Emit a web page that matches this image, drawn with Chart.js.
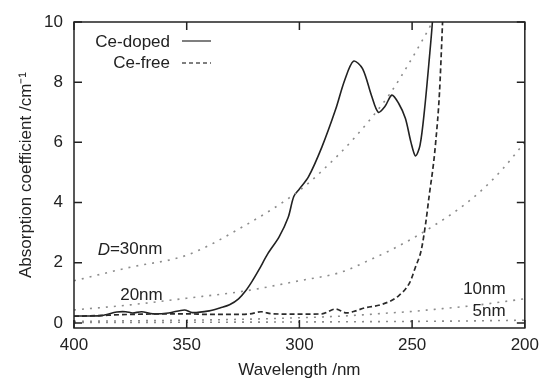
<!DOCTYPE html>
<html>
<head>
<meta charset="utf-8">
<script src="https://cdn.jsdelivr.net/npm/chart.js@4.4.0/dist/chart.umd.min.js"></script>
<style>
  html, body { margin: 0; padding: 0; background: #fff; }
</style>
</head>
<body>
<canvas id="myChart" width="546" height="381"></canvas>
<script>
// Ce-doped sample (solid line): wavelength /nm and absorption /cm-1
var dopedWave = [400, 397, 388, 381, 377, 374, 370, 365, 358, 351, 347.5, 340, 335, 331, 327, 324, 321, 318, 314, 309, 305, 302.5, 300, 296, 290, 284, 280, 276, 272, 268, 265, 262, 259, 256, 253, 250.5, 248.5, 246.5, 244.5, 242.3, 241, 239.5];
var dopedAbs  = [0.23, 0.23, 0.24, 0.36, 0.37, 0.33, 0.37, 0.3, 0.33, 0.43, 0.34, 0.4, 0.5, 0.6, 0.8, 1.05, 1.38, 1.76, 2.3, 2.86, 3.5, 4.2, 4.45, 4.85, 5.85, 7.08, 8.05, 8.7, 8.45, 7.55, 7.0, 7.2, 7.57, 7.3, 6.8, 6.0, 5.55, 5.9, 7.08, 8.84, 10, 12];

// Ce-free sample (dashed line)
var freeWave = [400, 390, 380, 370, 360, 350, 340, 330, 322, 317, 312, 300, 290, 284, 279, 275, 271, 264, 256, 251, 248.5, 246, 244, 242.3, 240.5, 239.6, 237.9, 236.6, 236];
var freeAbs  = [0.22, 0.24, 0.27, 0.29, 0.3, 0.3, 0.28, 0.28, 0.3, 0.37, 0.3, 0.29, 0.3, 0.46, 0.33, 0.4, 0.5, 0.6, 0.9, 1.35, 1.86, 2.4, 3.3, 4.3, 5.3, 5.96, 7.6, 9.8, 11];

// scattering curves for particle size D (dotted lines)
var d30Wave = [400, 375, 350, 325, 300, 290, 275, 260, 250, 241, 237];
var d30Abs  = [1.4, 1.85, 2.25, 3.2, 4.4, 5.05, 6.2, 7.6, 8.8, 10, 10.6];
var d20Wave = [400, 375, 350, 325, 300, 283, 278, 270, 260, 250, 240, 230, 220, 210, 200];
var d20Abs  = [0.43, 0.6, 0.82, 1.05, 1.4, 1.65, 1.78, 2.05, 2.4, 2.8, 3.25, 3.75, 4.35, 5.1, 6.0];
var d10Wave = [400, 375, 350, 325, 300, 280, 260, 250, 240, 230, 220, 210, 200];
var d10Abs  = [0.05, 0.07, 0.09, 0.12, 0.17, 0.23, 0.33, 0.38, 0.45, 0.52, 0.6, 0.7, 0.8];
var d5Wave = [400, 350, 300, 250, 225, 200];
var d5Abs  = [0.01, 0.02, 0.03, 0.05, 0.065, 0.09];

var xTicks = [400, 350, 300, 250, 200];
var yTicks = [0, 2, 4, 6, 8, 10];

var FONT = "'Liberation Sans', Arial, Helvetica, sans-serif";
var INK = '#222';

function pts(xs, ys) {
    var out = [];
    for (var i = 0; i < xs.length; i++) {
        out.push({ x: xs[i], y: ys[i] });
    }
    return out;
}

function dotted(xs, ys) {
    return {
        data: pts(xs, ys),
        borderColor: '#8c8c8c',
        borderWidth: 1.6,
        borderDash: [2, 6],
        pointRadius: 0,
        cubicInterpolationMode: 'monotone'
    };
}

// gnuplot style frame with inward ticks on all four sides
var framePlugin = {
    id: 'frame',
    afterDraw: function(chart) {
        var ctx = chart.ctx;
        var a = chart.chartArea;
        var sx = chart.scales.x, sy = chart.scales.y;
        ctx.save();
        ctx.strokeStyle = INK;
        ctx.lineWidth = 1.5;
        ctx.strokeRect(a.left, a.top, a.right - a.left, a.bottom - a.top);
        ctx.beginPath();
        xTicks.forEach(function(v) {
            var px = sx.getPixelForValue(v);
            ctx.moveTo(px, a.bottom); ctx.lineTo(px, a.bottom - 8);
            ctx.moveTo(px, a.top); ctx.lineTo(px, a.top + 8);
        });
        yTicks.forEach(function(v) {
            var py = sy.getPixelForValue(v);
            ctx.moveTo(a.left, py); ctx.lineTo(a.left + 8, py);
            ctx.moveTo(a.right, py); ctx.lineTo(a.right - 8, py);
        });
        ctx.stroke();

        // legend: text then line sample
        ctx.font = '17px ' + FONT;
        ctx.fillStyle = INK;
        ctx.textAlign = 'right';
        ctx.textBaseline = 'middle';
        var lx = a.left + 96;
        ctx.fillText('Ce-doped', lx, a.top + 20);
        ctx.fillText('Ce-free', lx, a.top + 41);
        ctx.lineWidth = 1.5;
        ctx.strokeStyle = '#555';
        ctx.beginPath();
        ctx.moveTo(lx + 12, a.top + 19); ctx.lineTo(lx + 41, a.top + 19);
        ctx.stroke();
        ctx.setLineDash([4, 3]);
        ctx.beginPath();
        ctx.moveTo(lx + 12, a.top + 41); ctx.lineTo(lx + 41, a.top + 41);
        ctx.stroke();
        ctx.setLineDash([]);

        // curve labels
        ctx.textAlign = 'left';
        ctx.font = 'italic 17px ' + FONT;
        var dx = sx.getPixelForValue(389.5), dy = sy.getPixelForValue(2.43);
        ctx.fillText('D', dx, dy);
        var w = ctx.measureText('D').width;
        ctx.font = '17px ' + FONT;
        ctx.fillText('=30nm', dx + w, dy);
        ctx.fillText('20nm', sx.getPixelForValue(379.5), sy.getPixelForValue(0.93));
        ctx.textAlign = 'right';
        ctx.fillText('10nm', sx.getPixelForValue(208.5), sy.getPixelForValue(1.13));
        ctx.fillText('5nm', sx.getPixelForValue(208.5), sy.getPixelForValue(0.37));
        ctx.restore();
    }
};

var ctx = document.getElementById('myChart').getContext('2d');
var myChart = new Chart(ctx, {
    type: 'line',
    data: {
        datasets: [
            dotted(d30Wave, d30Abs),
            dotted(d20Wave, d20Abs),
            dotted(d10Wave, d10Abs),
            dotted(d5Wave, d5Abs),
            {
                label: 'Ce-free',
                data: pts(freeWave, freeAbs),
                borderColor: '#2a2a2a',
                borderWidth: 1.7,
                borderDash: [5, 3],
                pointRadius: 0,
                cubicInterpolationMode: 'monotone'
            },
            {
                label: 'Ce-doped',
                data: pts(dopedWave, dopedAbs),
                borderColor: '#222',
                borderWidth: 1.6,
                pointRadius: 0,
                tension: 0.3
            }
        ]
    },
    options: {
        responsive: false,
        animation: false,
        layout: { padding: { top: 22, right: 18, left: 0, bottom: 0 } },
        plugins: {
            legend: { display: false },
            tooltip: { enabled: false }
        },
        scales: {
            x: {
                type: 'linear',
                reverse: true,
                min: 200,
                max: 400,
                grid: { display: false, drawTicks: false },
                border: { display: false },
                afterBuildTicks: function(axis) {
                    axis.ticks = xTicks.map(function(v) { return { value: v }; });
                },
                afterFit: function(axis) { axis.height = 53; },
                ticks: {
                    padding: 7,
                    color: INK,
                    font: { family: FONT, size: 17 },
                    maxRotation: 0
                },
                title: {
                    display: true,
                    text: 'Wavelength /nm',
                    color: INK,
                    font: { family: FONT, size: 17 },
                    padding: 0
                }
            },
            y: {
                min: -0.17,
                max: 10,
                grid: { display: false, drawTicks: false },
                border: { display: false },
                afterBuildTicks: function(axis) {
                    axis.ticks = yTicks.map(function(v) { return { value: v }; });
                },
                afterFit: function(axis) { axis.width = 74; },
                ticks: {
                    padding: 11,
                    color: INK,
                    font: { family: FONT, size: 17 }
                },
                title: {
                    display: true,
                    text: 'Absorption coefficient /cm\u207B\u00B9',
                    color: INK,
                    font: { family: FONT, size: 17 },
                    padding: { top: 16, bottom: 0 }
                }
            }
        }
    },
    plugins: [framePlugin]
});
</script>
</body>
</html>
